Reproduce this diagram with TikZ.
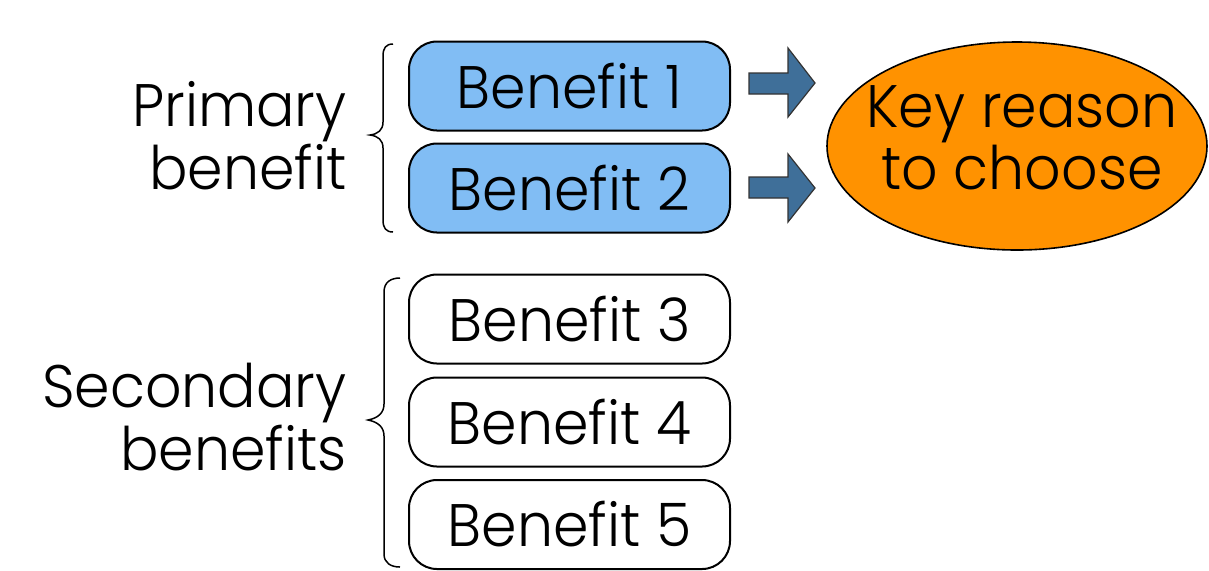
\documentclass[tikz,border=0pt]{standalone}
\usepackage{fontspec}
\setmainfont{Poppins}[UprightFont=* Light, FakeStretch=0.95]
\usetikzlibrary{shapes.geometric}

\definecolor{boxblue}{RGB}{129,189,244}
\definecolor{arrowblue}{RGB}{63,111,153}
\definecolor{keyorange}{RGB}{255,146,0}

\tikzset{
  bigtext/.style={font=\fontsize{30}{28.5}\selectfont},
  benefit/.style={draw=black, line width=1pt, rounded corners=14pt,
    minimum width=160.5pt, minimum height=44.5pt, inner sep=0pt, bigtext},
  primarybox/.style={benefit, fill=boxblue},
  secondarybox/.style={benefit, fill=white},
  keyreason/.style={ellipse, draw=black, line width=0.8pt, fill=keyorange,
    minimum width=190pt, minimum height=104pt, inner sep=0pt},
  keytext/.style={align=center, inner sep=0pt, bigtext},
  grouplabel/.style={align=right, anchor=east, inner sep=0pt, bigtext},
  bracket/.style={draw=black, line width=0.75pt},
  blockarrow/.style={draw=black!80, line width=0.6pt, fill=arrowblue, line join=miter}
}

\begin{document}
\begin{tikzpicture}[x=0.5pt, y=-0.5pt]
  \useasboundingbox (0,0) rectangle (1209,570);

  % benefit boxes
  \node[primarybox]   (b1) at (569.5, 86)    {Benefit 1};
  \node[primarybox]   (b2) at (569.5, 188)   {Benefit 2};
  \node[secondarybox] (b3) at (569.5, 319)   {Benefit 3};
  \node[secondarybox] (b4) at (569.5, 422)   {Benefit 4};
  \node[secondarybox] (b5) at (569.5, 524.5) {Benefit 5};

  % the key reason
  \node[keyreason] (key) at (1017, 146) {};
  \node[keytext] (keylabel) at (1022, 138) {Key reason\\to choose};

  % group labels
  \node[grouplabel] (prim) at (347, 136) {Primary\\benefit};
  \node[grouplabel] (sec)  at (347, 417) {Secondary\\benefits};

  % curly brackets
  \draw[bracket] (393,44) .. controls (386,44) and (383,48) .. (383,56)
    -- (383,122) .. controls (383,130) and (378,134) .. (370,135)
    .. controls (378,136) and (383,140) .. (383,148)
    -- (383,220) .. controls (383,228) and (386,232) .. (393,232);
  \draw[bracket] (400,278) .. controls (391,278) and (384,282) .. (384,292)
    -- (384,404) .. controls (384,413) and (378,418) .. (368,420)
    .. controls (378,422) and (384,427) .. (384,436)
    -- (384,554) .. controls (384,563) and (391,567) .. (400,567);

  % block arrows towards the key reason
  \draw[blockarrow] (749,73) -- (788,73) -- (788,48) -- (815,83)
    -- (788,117) -- (788,94) -- (749,94) -- cycle;
  \draw[blockarrow] (749,177) -- (788,177) -- (788,154) -- (815,188)
    -- (788,222) -- (788,198) -- (749,198) -- cycle;
\end{tikzpicture}
\end{document}
